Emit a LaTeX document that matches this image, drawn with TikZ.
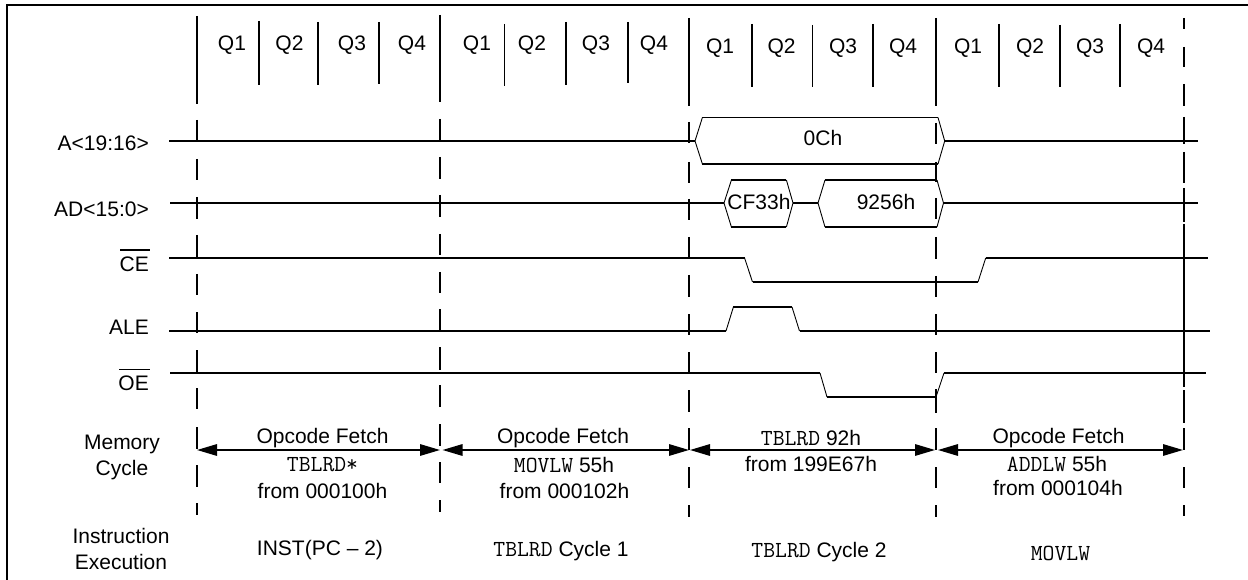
\documentclass[tikz,border=0pt]{standalone}
\usepackage{fontspec}
\setmainfont{Liberation Sans}
\newcommand{\mn}[1]{{\fontsize{23}{23}\selectfont\ttfamily #1}}
\usetikzlibrary{arrows.meta}
\begin{document}
\begin{tikzpicture}[x=1pt,y=-1pt,
  txt/.style={inner sep=0pt,font=\fontsize{21}{21}\selectfont,anchor=center},
  lbl/.style={inner sep=0pt,font=\fontsize{21}{21}\selectfont,anchor=east},
  vline/.style={line width=1.7pt},
  sig/.style={line width=1.5pt},
  thin edge/.style={line width=0.9pt},
  span/.style={line width=1.5pt,{Triangle[length=20pt,width=11.5pt]}-{Triangle[length=20pt,width=11.5pt]}}]
\useasboundingbox (0,0) rectangle (1248,580);
% frame
\draw[line width=2pt] (6.7,580) -- (6.7,5) -- (1248,5);
% clock boundaries
\foreach \s/\e in {16/104,120/140,159/180,197/219,235/258,274/295,312/333,350/373,388/409,427/449,465/487,503/515}
  \draw[vline] (197,\s) -- (197,\e);
\foreach \s/\e in {15/102,119/140,157/179,195/217,234/255,272/293,309/331,347/370,385/407,424/446,462/483,500/512}
  \draw[vline] (440,\s) -- (440,\e);
\foreach \s/\e in {18/106,122/143,162/183,199/220,237/258,275/297,314/335,352/373,390/412,428/450,467/488,505/517}
  \draw[vline] (689,\s) -- (689,\e);
\foreach \s/\e in {18/106,123/144,162/182,198/219,237/259,276/297,314/335,352/373,389/413,428/450,467/488,505/517}
  \draw[vline] (936,\s) -- (936,\e);
\foreach \s/\e in {18/29,47/67,84/106,117/144,152/183,188/222,224/387,390/423,428/450,467/488,505/516}
  \draw[vline] (1184,\s) -- (1184,\e);
% quarter ticks
\foreach \x/\s/\e in {259/21/85,318/22/85,379/22/84,504.6/24/86,566/22/85,628/22/83,
  751.7/24/87,812.6/25/87,873/24/87,999/24/87,1060/25/87,1120/24/87}
  \draw[vline] (\x,\s) -- (\x,\e);
% quarter labels
\foreach \x/\y/\t [count=\i] in {232/45/Q1,289.5/45/Q2,352/45/Q3,412/45/Q4,477/45/Q1,532/45/Q2,596/45/Q3,654/45/Q4,
  720/48/Q1,781.6/48/Q2,843/48/Q3,903/48/Q4,968/48/Q1,1030/48/Q2,1090/48/Q3,1151/48/Q4}
  \node[txt] (q\i) at (\x,\y) {\t};
% A<19:16>
\coordinate (as) at (169,141); \coordinate (ae) at (1198,141);
\coordinate (a1) at (695,141); \coordinate (a2) at (702.4,117.5); \coordinate (a3) at (938,117.5);
\coordinate (a4) at (944.7,141); \coordinate (a5) at (938,164); \coordinate (a6) at (702.4,164);
\draw[sig] (as) -- (a1); \draw[sig] (a4) -- (ae);
\draw[sig] (a2) -- (a3); \draw[sig] (a6) -- (a5);
\draw[thin edge] (a2) -- (a1) -- (a6); \draw[thin edge] (a3) -- (a4) -- (a5);
\node[txt] (t0c) at (823,138) {0Ch};
% AD<15:0>
\coordinate (ds) at (170,203); \coordinate (de) at (1198,203);
\coordinate (b1) at (724,203); \coordinate (b2) at (731.4,180); \coordinate (b3) at (786.4,180);
\coordinate (b4) at (793,203); \coordinate (b5) at (786.4,227); \coordinate (b6) at (731.4,227);
\coordinate (c1) at (818,203); \coordinate (c2) at (825,180); \coordinate (c3) at (937,180);
\coordinate (c4) at (943.5,203); \coordinate (c5) at (937,227); \coordinate (c6) at (825,227);
\draw[sig] (ds) -- (b1); \draw[sig] (b4) -- (c1); \draw[sig] (c4) -- (de);
\draw[sig] (b2) -- (b3); \draw[sig] (b6) -- (b5); \draw[sig] (c2) -- (c3); \draw[sig] (c6) -- (c5);
\draw[thin edge] (b2) -- (b1) -- (b6); \draw[thin edge] (b3) -- (b4) -- (b5);
\draw[thin edge] (c2) -- (c1) -- (c6); \draw[thin edge] (c3) -- (c4) -- (c5);
\node[txt] (tcf) at (759,202) {CF33h};
\node[txt] (t92) at (886,202) {9256h};
% CE
\coordinate (e0) at (169,258); \coordinate (e1) at (744.6,258); \coordinate (e2) at (752.5,282);
\coordinate (e3) at (978,282); \coordinate (e4) at (985.7,258); \coordinate (e5) at (1207.7,258);
\draw[sig] (e0) -- (e1); \draw[thin edge] (e1) -- (e2); \draw[sig] (e2) -- (e3);
\draw[thin edge] (e3) -- (e4); \draw[sig] (e4) -- (e5);
% ALE
\coordinate (l0) at (169,331); \coordinate (l1) at (726,331); \coordinate (l2) at (733.4,307);
\coordinate (l3) at (792,307); \coordinate (l4) at (799.5,331); \coordinate (l5) at (1210,331);
\draw[sig] (l0) -- (l1); \draw[thin edge] (l1) -- (l2); \draw[sig] (l2) -- (l3);
\draw[thin edge] (l3) -- (l4); \draw[sig] (l4) -- (l5);
% OE
\coordinate (o0) at (170,373); \coordinate (o1) at (820,373); \coordinate (o2) at (827,397);
\coordinate (o3) at (936,397); \coordinate (o4) at (944,373); \coordinate (o5) at (1206,373);
\draw[sig] (o0) -- (o1); \draw[thin edge] (o1) -- (o2); \draw[sig] (o2) -- (o3);
\draw[thin edge] (o3) -- (o4); \draw[sig] (o4) -- (o5);
% signal labels
\node[lbl] (la) at (149,143) {A<19:16>};
\node[lbl] (ld) at (149,209.5) {AD<15:0>};
\node[lbl] (lc) at (149,264) {CE};
\node[lbl] (ll) at (149,327) {ALE};
\node[lbl] (lo) at (149,383) {OE};
\draw[line width=1.2pt] (120.2,250) -- (149.5,250);
\draw[line width=1.2pt] (119,369.5) -- (149.5,369.5);
% memory cycle
\node[txt] (m1) at (122,444) {Memory};
\node[txt] (m2) at (122,470) {Cycle};
\coordinate (s1) at (197,450); \coordinate (s2) at (440,450);
\coordinate (s3) at (442.5,450); \coordinate (s4) at (689,450);
\coordinate (s5) at (690,450); \coordinate (s6) at (935,450);
\coordinate (s7) at (938,450); \coordinate (s8) at (1183,450);
\draw[span] (s1) -- (s2); \draw[span] (s3) -- (s4); \draw[span] (s5) -- (s6); \draw[span] (s7) -- (s8);
\node[txt] (f1) at (322.5,438) {Opcode Fetch};
\node[txt] (f2) at (322.5,465) {\mn{TBLRD*}};
\node[txt] (f3) at (322.5,491) {from 000100h};
\node[txt] (g1) at (563,438) {Opcode Fetch};
\node[txt] (g2) at (564,465) {\mn{MOVLW} 55h};
\node[txt] (g3) at (564.5,491) {from 000102h};
\node[txt] (h1) at (811,438) {\mn{TBLRD} 92h};
\node[txt] (h2) at (811,464) {from 199E67h};
\node[txt] (i1) at (1058.5,438) {Opcode Fetch};
\node[txt] (i2) at (1057,464) {\mn{ADDLW} 55h};
\node[txt] (i3) at (1058,488) {from 000104h};
% instruction execution
\node[txt] (x1) at (121,536) {Instruction};
\node[txt] (x2) at (121,562) {Execution};
\node[txt] (j1) at (320,550) {INST(PC – 2)};
\node[txt] (j2) at (561,551) {\mn{TBLRD} Cycle 1};
\node[txt] (j3) at (819,552) {\mn{TBLRD} Cycle 2};
\node[txt] (j4) at (1060.5,553) {\mn{MOVLW}};
\end{tikzpicture}
\end{document}
